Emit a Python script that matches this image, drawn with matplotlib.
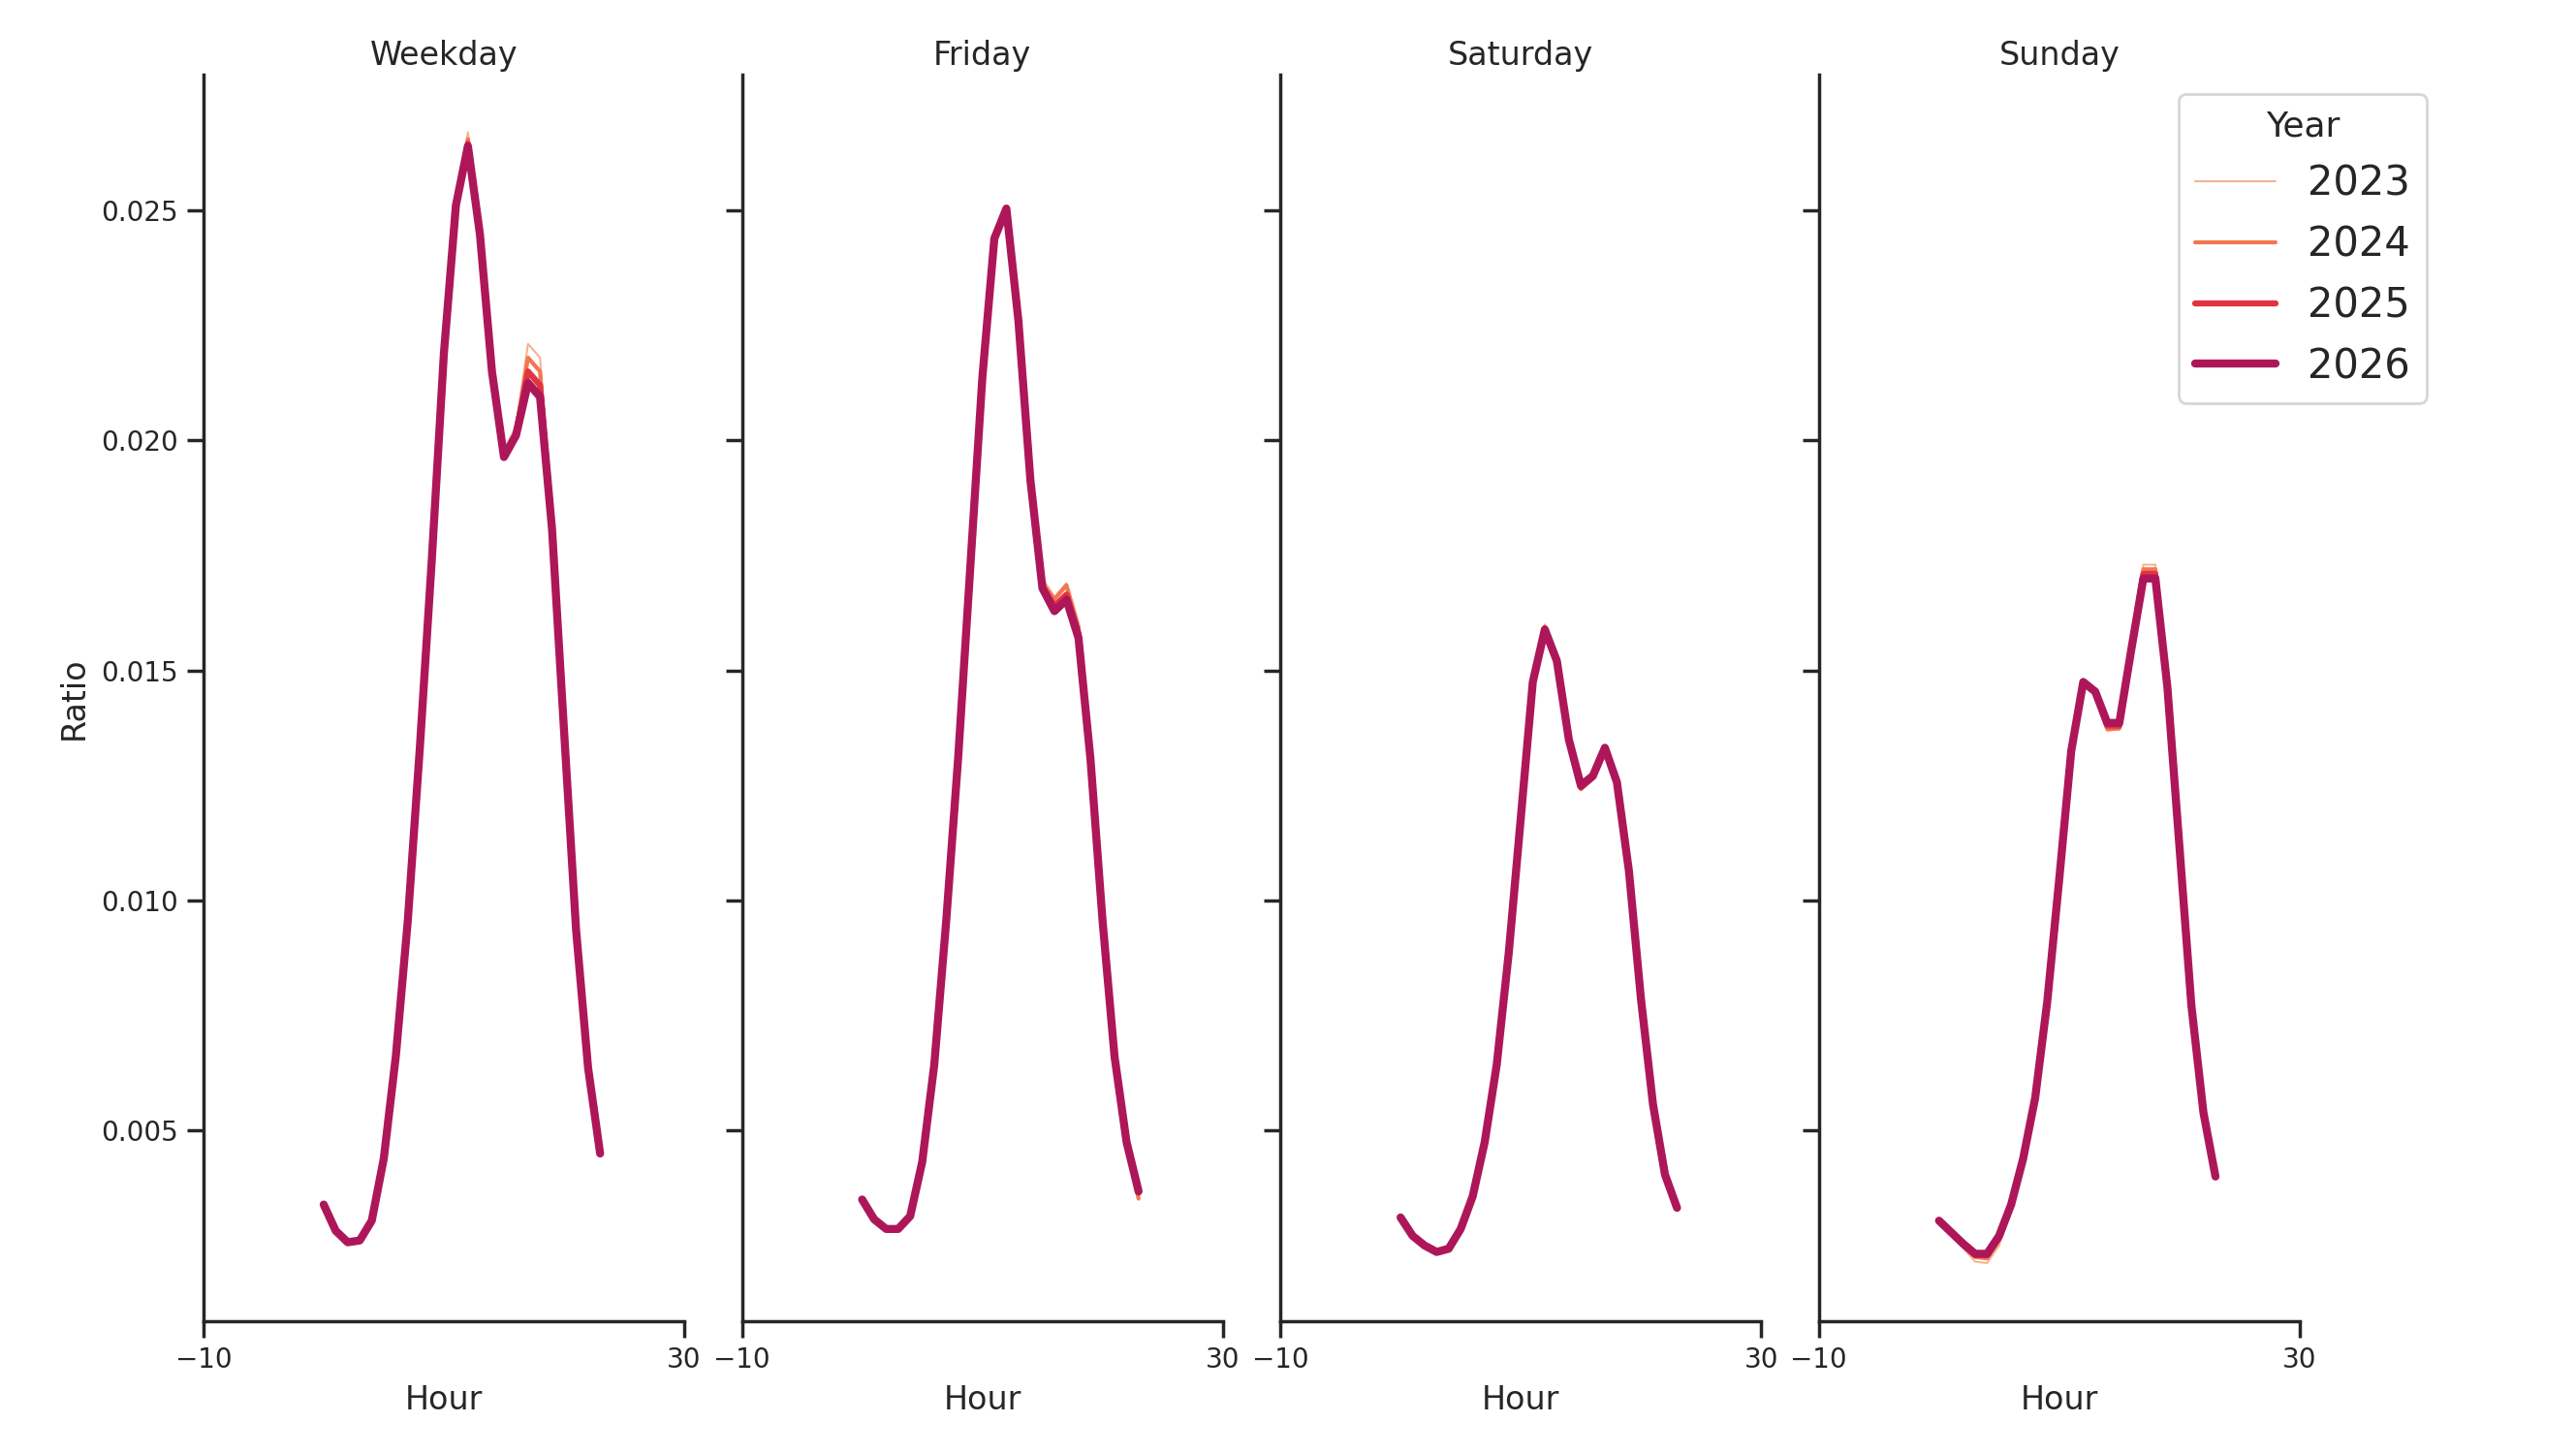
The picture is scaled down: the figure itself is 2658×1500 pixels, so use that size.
import matplotlib
matplotlib.use("Agg")
from matplotlib import pyplot as plt

HOURS = list(range(24))
YEARS = [2023, 2024, 2025, 2026]
DAY_TYPES = ["Weekday", "Friday", "Saturday", "Sunday"]

# ratio per hour
weekday_2023 = [0.00339, 0.00282, 0.00259, 0.00263, 0.00304, 0.00439, 0.00661, 0.00957,
                0.01332, 0.01743, 0.02189, 0.02515, 0.02670, 0.02460, 0.02160, 0.01980,
                0.02030, 0.02210, 0.02180, 0.01820, 0.01370, 0.00936, 0.00636, 0.00450]
weekday_2024 = [0.00339, 0.00282, 0.00258, 0.00262, 0.00304, 0.00439, 0.00661, 0.00957,
                0.01332, 0.01743, 0.02189, 0.02513, 0.02655, 0.02455, 0.02157, 0.01972,
                0.02020, 0.02180, 0.02150, 0.01815, 0.01368, 0.00936, 0.00636, 0.00450]
weekday_2025 = [0.00339, 0.00282, 0.00257, 0.00261, 0.00304, 0.00439, 0.00661, 0.00957,
                0.01332, 0.01743, 0.02189, 0.02511, 0.02645, 0.02450, 0.02154, 0.01966,
                0.02014, 0.02150, 0.02120, 0.01810, 0.01368, 0.00936, 0.00636, 0.00450]
weekday_2026 = [0.00339, 0.00282, 0.00257, 0.00261, 0.00304, 0.00439, 0.00661, 0.00957,
                0.01332, 0.01743, 0.02189, 0.02511, 0.02640, 0.02448, 0.02150, 0.01964,
                0.02011, 0.02125, 0.02095, 0.01807, 0.01368, 0.00936, 0.00636, 0.00450]

friday_2023 = [0.00350, 0.00307, 0.00286, 0.00286, 0.00314, 0.00432, 0.00643, 0.00957,
               0.01314, 0.01725, 0.02136, 0.02439, 0.02510, 0.02265, 0.01920, 0.01700,
               0.01660, 0.01690, 0.01600, 0.01310, 0.00957, 0.00661, 0.00475, 0.00360]
friday_2024 = [0.00350, 0.00307, 0.00286, 0.00286, 0.00314, 0.00432, 0.00643, 0.00957,
               0.01314, 0.01725, 0.02136, 0.02439, 0.02508, 0.02263, 0.01918, 0.01690,
               0.01655, 0.01685, 0.01595, 0.01310, 0.00957, 0.00661, 0.00472, 0.00352]
friday_2025 = [0.00350, 0.00307, 0.00286, 0.00286, 0.00314, 0.00432, 0.00643, 0.00957,
               0.01314, 0.01725, 0.02136, 0.02439, 0.02505, 0.02261, 0.01915, 0.01682,
               0.01640, 0.01665, 0.01580, 0.01308, 0.00957, 0.00661, 0.00475, 0.00365]
friday_2026 = [0.00350, 0.00307, 0.00286, 0.00286, 0.00314, 0.00432, 0.00643, 0.00957,
               0.01314, 0.01725, 0.02136, 0.02439, 0.02504, 0.02261, 0.01914, 0.01679,
               0.01629, 0.01654, 0.01571, 0.01307, 0.00957, 0.00661, 0.00475, 0.00368]

saturday_2023 = [0.00311, 0.00271, 0.00250, 0.00236, 0.00243, 0.00286, 0.00357, 0.00475,
                 0.00643, 0.00886, 0.01179, 0.01480, 0.01600, 0.01525, 0.01350, 0.01240,
                 0.01265, 0.01335, 0.01257, 0.01064, 0.00786, 0.00557, 0.00404, 0.00330]
saturday_2024 = [0.00311, 0.00271, 0.00250, 0.00236, 0.00243, 0.00286, 0.00357, 0.00475,
                 0.00643, 0.00886, 0.01179, 0.01478, 0.01595, 0.01523, 0.01348, 0.01242,
                 0.01266, 0.01333, 0.01257, 0.01064, 0.00786, 0.00557, 0.00404, 0.00330]
saturday_2025 = [0.00311, 0.00271, 0.00250, 0.00236, 0.00243, 0.00286, 0.00357, 0.00475,
                 0.00643, 0.00886, 0.01179, 0.01476, 0.01591, 0.01521, 0.01350, 0.01246,
                 0.01268, 0.01332, 0.01257, 0.01064, 0.00786, 0.00557, 0.00404, 0.00332]
saturday_2026 = [0.00311, 0.00271, 0.00250, 0.00236, 0.00243, 0.00286, 0.00357, 0.00475,
                 0.00643, 0.00886, 0.01179, 0.01475, 0.01589, 0.01521, 0.01350, 0.01250,
                 0.01271, 0.01332, 0.01257, 0.01064, 0.00786, 0.00557, 0.00404, 0.00332]

sunday_2023 = [0.00304, 0.00276, 0.00245, 0.00215, 0.00212, 0.00250, 0.00335, 0.00439,
               0.00571, 0.00779, 0.01046, 0.01325, 0.01478, 0.01450, 0.01370, 0.01372,
               0.01546, 0.01730, 0.01730, 0.01468, 0.01118, 0.00771, 0.00539, 0.00400]
sunday_2024 = [0.00304, 0.00278, 0.00250, 0.00225, 0.00222, 0.00262, 0.00337, 0.00439,
               0.00571, 0.00779, 0.01046, 0.01325, 0.01476, 0.01450, 0.01372, 0.01374,
               0.01546, 0.01720, 0.01720, 0.01466, 0.01118, 0.00771, 0.00539, 0.00400]
sunday_2025 = [0.00304, 0.00279, 0.00254, 0.00230, 0.00229, 0.00268, 0.00339, 0.00439,
               0.00571, 0.00779, 0.01046, 0.01325, 0.01475, 0.01452, 0.01380, 0.01380,
               0.01546, 0.01710, 0.01710, 0.01464, 0.01118, 0.00771, 0.00539, 0.00400]
sunday_2026 = [0.00304, 0.00279, 0.00254, 0.00232, 0.00232, 0.00271, 0.00339, 0.00439,
               0.00571, 0.00779, 0.01046, 0.01325, 0.01475, 0.01454, 0.01386, 0.01386,
               0.01546, 0.01700, 0.01700, 0.01464, 0.01118, 0.00771, 0.00539, 0.00400]

SERIES = {
    "Weekday": [weekday_2023, weekday_2024, weekday_2025, weekday_2026],
    "Friday": [friday_2023, friday_2024, friday_2025, friday_2026],
    "Saturday": [saturday_2023, saturday_2024, saturday_2025, saturday_2026],
    "Sunday": [sunday_2023, sunday_2024, sunday_2025, sunday_2026],
}

COLORS = ["#f6b48f", "#f37651", "#e13342", "#ad1759"]
WIDTHS = [0.75, 1.5, 2.25, 3.0]

plt.rcParams.update({
    "font.family": "DejaVu Sans",
    "font.size": 12,
    "axes.linewidth": 1.25,
    "axes.edgecolor": ".15",
    "axes.labelcolor": ".15",
    "text.color": ".15",
    "xtick.color": ".15",
    "ytick.color": ".15",
    "xtick.labelsize": 10,
    "ytick.labelsize": 10,
    "xtick.major.size": 6,
    "ytick.major.size": 6,
    "xtick.major.width": 1.25,
    "ytick.major.width": 1.25,
    "axes.titlesize": 12,
    "axes.labelsize": 12,
})

fig, axes = plt.subplots(1, 4, figsize=(13.29, 7.5), dpi=200, sharey=True)
fig.subplots_adjust(left=0.079, right=0.8927, bottom=0.0915, top=0.9489, wspace=0.12)

for ax, day in zip(axes, DAY_TYPES):
    for year, vals, c, lw in zip(YEARS, SERIES[day], COLORS, WIDTHS):
        ax.plot(HOURS, vals, color=c, lw=lw, label=str(year),
                solid_capstyle="round", solid_joinstyle="round")
    ax.set_title(day, pad=3.5)
    ax.set_xlabel("Hour")
    ax.set_xlim(-10, 30)
    ax.set_xticks([-10, 30])
    ax.spines["top"].set_visible(False)
    ax.spines["right"].set_visible(False)

axes[0].set_ylim(0.00086, 0.02796)
axes[0].set_yticks([0.005, 0.010, 0.015, 0.020, 0.025])
axes[0].set_ylabel("Ratio")

handles, labels = axes[-1].get_legend_handles_labels()
leg = fig.legend(handles, labels, title="Year", loc="upper right",
                 bbox_to_anchor=(0.942, 0.9353), borderaxespad=0,
                 fontsize=15, title_fontsize=13, frameon=True)
leg.get_frame().set_edgecolor("0.8")

fig.savefig("out.png", dpi=200)
